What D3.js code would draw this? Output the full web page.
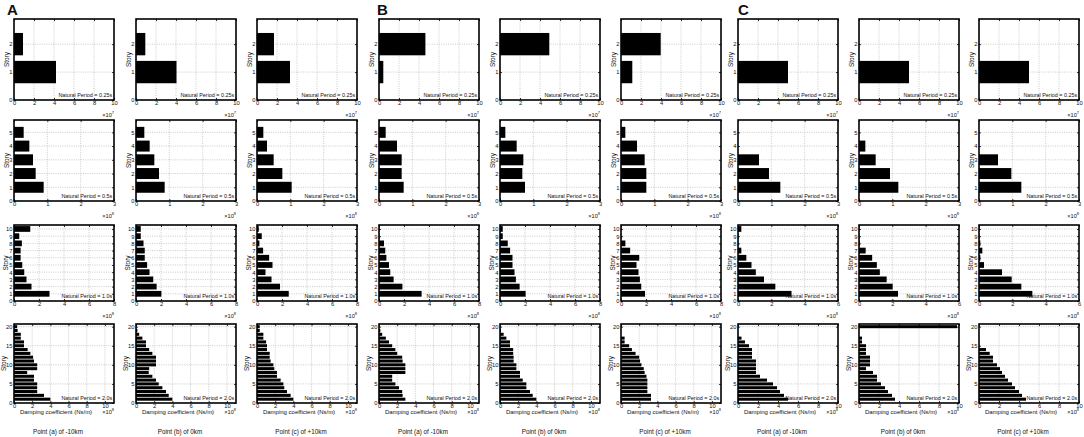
<!DOCTYPE html>
<html>
<head>
<meta charset="utf-8">
<title>Damping coefficient by story</title>
<script src="https://d3js.org/d3.v7.min.js"></script>
<style>
    body { margin: 0; background: #fff; }
    text { font-family: "Liberation Sans", Arial, sans-serif; fill: #111; }
</style>
</head>
<body>
<script>
// ---- data (values in units of 10^exponent Ns/m), story 1 first ----
var groups = ["A", "B", "C"];
var pointLabels = ["Point (a) of -10km", "Point (b) of 0km", "Point (c) of +10km"];
var periods = ["0.25s", "0.5s", "1.0s", "2.0s"];
var exponents = [7, 8, 8, 8];
var storyCounts = [2, 5, 10, 20];
var storyTickStep = [1, 1, 1, 5];
var xTickStep = [2, 1, 2, 2];
// x-axis upper limit per row, for groups A, B, C
var xLimits = [[10, 10, 10], [3, 3, 3], [8, 8, 6], [11, 11, 10]];

// panel order: A(a,b,c), B(a,b,c), C(a,b,c)
var damping025 = [
    [4.2, 0.9], [4.05, 0.93], [3.3, 1.7],
    [0.43, 4.64], [0, 4.93], [1.13, 3.97],
    [5.0, 0], [5.0, 0], [5.0, 0]
];
var damping05 = [
    [0.89, 0.65, 0.57, 0.46, 0.29], [0.86, 0.69, 0.55, 0.41, 0.25], [1.04, 0.76, 0.5, 0.3, 0.19],
    [0.74, 0.68, 0.68, 0.54, 0.2], [0.75, 0.67, 0.7, 0.5, 0.16], [0.76, 0.76, 0.71, 0.48, 0.13],
    [1.27, 0.93, 0.63, 0, 0], [1.18, 0.93, 0.5, 0.19, 0], [1.27, 0.97, 0.57, 0, 0]
];
var damping10 = [
    [2.84, 1.4, 1.0, 0.82, 0.66, 0.53, 0.53, 0.63, 0.42, 1.3],
    [2.03, 1.65, 1.38, 1.08, 0.89, 0.7, 0.7, 0.6, 0.38, 0.38],
    [2.54, 1.84, 1.16, 0.68, 1.24, 0.97, 0.49, 0.19, 0.38, 0.14],
    [3.41, 1.87, 1.17, 0.9, 0.8, 0.59, 0.5, 0.4, 0.03, 0.03],
    [2.05, 1.57, 1.27, 1.16, 1.0, 1.0, 0.81, 0.62, 0.22, 0.22],
    [1.92, 1.62, 1.51, 1.4, 1.24, 1.46, 0.73, 0.35, 0.03, 0.03],
    [3.21, 2.24, 1.56, 1.07, 0.81, 0.5, 0.2, 0.02, 0.02, 0.2],
    [2.34, 2.02, 1.66, 1.25, 1.07, 0.79, 0.4, 0.04, 0.02, 0.02],
    [3.2, 2.54, 1.96, 1.38, 0.3, 0.08, 0.2, 0.08, 0.03, 0.03]
];
var damping20 = [
    [4.0, 3.3, 2.55, 2.55, 2.55, 2.2, 2.2, 1.45, 2.55, 2.55, 2.2, 2.1, 1.8, 1.5, 1.1, 1.1, 0.75, 0.75, 0.4, 0.35],
    [4.0, 3.6, 3.3, 2.9, 2.5, 2.2, 1.8, 1.4, 1.45, 2.2, 2.2, 2.2, 1.8, 1.45, 1.1, 1.1, 0.7, 0.35, 0.15, 0],
    [4.0, 3.7, 3.3, 3.0, 2.9, 2.6, 2.2, 2.2, 1.9, 1.8, 1.5, 1.4, 1.4, 1.1, 1.1, 1.0, 0.7, 0.7, 0.3, 0.3],
    [2.9, 2.6, 2.55, 2.2, 1.8, 1.45, 1.45, 2.9, 2.9, 2.9, 2.6, 2.55, 2.0, 1.8, 1.45, 1.1, 0.75, 0.35, 0.15, 0],
    [4.0, 3.6, 3.3, 2.9, 2.9, 2.5, 2.2, 2.2, 1.8, 1.8, 1.5, 1.5, 1.45, 1.45, 1.1, 1.1, 0.7, 0.4, 0.1, 0],
    [3.3, 3.3, 2.9, 2.9, 2.9, 2.9, 2.8, 2.6, 2.5, 2.25, 2.1, 2.0, 1.6, 1.2, 0.9, 0.4, 0.4, 0, 0, 0],
    [5.0, 4.6, 4.2, 3.9, 3.5, 2.9, 2.2, 1.8, 1.8, 1.8, 1.8, 1.4, 1.4, 1.4, 1.1, 0.7, 0.35, 0, 0, 0],
    [3.6, 3.3, 2.9, 2.6, 2.2, 1.8, 1.8, 1.4, 0.7, 1.1, 1.1, 1.1, 0.7, 0.7, 0.7, 0.3, 0.3, 0, 0, 9.8],
    [4.7, 4.3, 4.0, 3.6, 3.3, 2.9, 2.6, 2.3, 2.1, 1.8, 1.4, 1.4, 1.07, 0.7, 0, 0, 0, 0, 0, 0]
];
var rows = [damping025, damping05, damping10, damping20];

// ---- layout ----
var width = 1084, height = 437;
var panelX = [14, 136, 257, 379, 500, 621, 738, 859, 979];
var panelW = 100;
var rowTop = [19, 120, 225, 324];
var rowH = [81, 81, 76, 79];
var yTop = [2.9, 5.9, 10.55, 20.7];
var tickFont = 5.8;
var fmt = d3.format("d");

var svg = d3.select("body").append("svg")
    .attr("width", width)
    .attr("height", height);

function drawPanel(values, r, p) {
    var g = Math.floor(p / 3), k = p % 3;
    var x0 = panelX[p];
    var y0 = rowTop[r];
    var h = rowH[r];
    var xMax = xLimits[r][g];
    var n = storyCounts[r];

    var xs = d3.scaleLinear().domain([0, xMax]).range([x0, x0 + panelW]);
    var ys = d3.scaleLinear().domain([0, yTop[r]]).range([y0 + h, y0]);
    var xTicks = d3.range(0, xMax + 0.001, xTickStep[r]);
    var yTicks = d3.range(0, n + 0.001, storyTickStep[r]);

    var panel = svg.append("g");

    // dotted grid
    panel.selectAll(".gx").data(xTicks.filter(function (t) { return t > 0 && t < xMax; }))
        .enter().append("line")
        .attr("x1", function (d) { return xs(d); }).attr("x2", function (d) { return xs(d); })
        .attr("y1", y0).attr("y2", y0 + h)
        .attr("stroke", "#a8a8a8").attr("stroke-width", 0.6).attr("stroke-dasharray", "1,1.3");
    panel.selectAll(".gy").data(yTicks.filter(function (t) { return t > 0; }))
        .enter().append("line")
        .attr("y1", function (d) { return ys(d); }).attr("y2", function (d) { return ys(d); })
        .attr("x1", x0).attr("x2", x0 + panelW)
        .attr("stroke", "#a8a8a8").attr("stroke-width", 0.6).attr("stroke-dasharray", "1,1.3");

    // bars
    var stories = values.map(function (v, i) { return { story: i + 1, value: v }; })
        .filter(function (d) { return d.value > 0; });
    panel.selectAll(".bar").data(stories)
        .enter().append("rect")
        .attr("x", xs(0))
        .attr("y", function (d) { return ys(d.story + 0.4); })
        .attr("width", function (d) { return xs(d.value) - xs(0); })
        .attr("height", function (d) { return ys(d.story - 0.4) - ys(d.story + 0.4); })
        .attr("fill", "#000");

    // axes with inward ticks
    var bottom = panel.append("g").attr("transform", "translate(0," + (y0 + h) + ")")
        .call(d3.axisBottom(xs).tickValues(xTicks).tickFormat(fmt).tickSizeInner(-2).tickSizeOuter(0).tickPadding(1));
    var top = panel.append("g").attr("transform", "translate(0," + y0 + ")")
        .call(d3.axisTop(xs).tickValues(xTicks).tickSizeInner(-2).tickSizeOuter(0).tickFormat(""));
    var left = panel.append("g").attr("transform", "translate(" + x0 + ",0)")
        .call(d3.axisLeft(ys).tickValues(yTicks).tickFormat(fmt).tickSizeInner(-2).tickSizeOuter(0).tickPadding(1.6));
    var right = panel.append("g").attr("transform", "translate(" + (x0 + panelW) + ",0)")
        .call(d3.axisRight(ys).tickValues(yTicks).tickSizeInner(-2).tickSizeOuter(0).tickFormat(""));
    [bottom, top, left, right].forEach(function (a) {
        a.select(".domain").remove();
        a.selectAll("line").attr("stroke", "#000").attr("stroke-width", 0.8);
        a.selectAll("text").attr("font-size", tickFont).attr("fill", "#111")
            .style("font-family", "'Liberation Sans', Arial, sans-serif");
    });

    // frame
    panel.append("rect")
        .attr("x", x0).attr("y", y0).attr("width", panelW).attr("height", h)
        .attr("fill", "none").attr("stroke", "#000").attr("stroke-width", 1.6);

    panel.append("text")
        .attr("x", x0 + panelW - 1.8).attr("y", y0 + h - 2.8)
        .attr("text-anchor", "end").attr("font-size", 5.4)
        .text("Natural Period = " + periods[r]);

    // story label
    var sx = x0 - (r === 3 ? 10.5 : (r === 2 ? 8.5 : 7));
    panel.append("text")
        .attr("transform", "translate(" + sx + "," + (y0 + h / 2) + ") rotate(-90)")
        .attr("text-anchor", "middle").attr("dy", "0.35em").attr("font-size", 6.5)
        .text("Story");

    // exponent label
    var ey = r === 3 ? 413.5 : y0 + h + 16.5;
    var ex = panel.append("text")
        .attr("x", x0 + panelW).attr("y", ey)
        .attr("text-anchor", "end").attr("font-size", 5.6);
    ex.append("tspan").text("\u00d710");
    ex.append("tspan").attr("dy", -2.2).attr("font-size", 4).text(exponents[r]);

    if (r === 3) {
        panel.append("text")
            .attr("x", x0 + panelW / 2 - 8).attr("y", 413.5)
            .attr("text-anchor", "middle").attr("font-size", 6)
            .text("Damping coefficient (Ns/m)");
        panel.append("text")
            .attr("x", x0 + panelW / 2 - 6).attr("y", 433.5)
            .attr("text-anchor", "middle").attr("font-size", 6.3)
            .text(pointLabels[k]);
    }
}

rows.forEach(function (row, r) {
    row.forEach(function (values, p) {
        drawPanel(values, r, p);
    });
});

// group letters
var letterX = [7, 377, 738];
svg.selectAll(".letter").data(groups)
    .enter().append("text")
    .attr("x", function (d, i) { return letterX[i]; })
    .attr("y", 15)
    .attr("font-size", 15).attr("font-weight", "bold")
    .text(function (d) { return d; });
</script>
</body>
</html>
